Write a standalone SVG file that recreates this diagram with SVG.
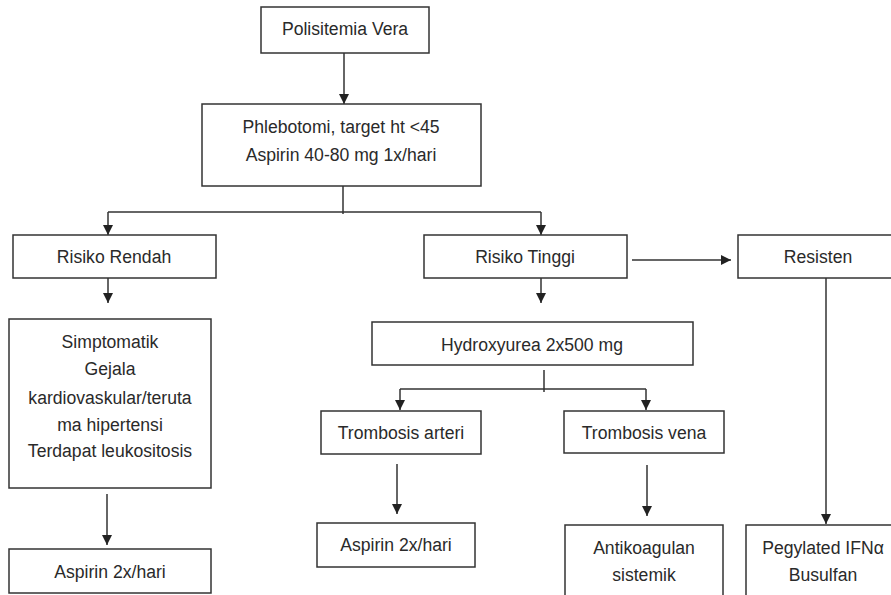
<svg xmlns="http://www.w3.org/2000/svg" width="891" height="595" viewBox="0 0 891 595">
<defs>
<marker id="ah" markerUnits="userSpaceOnUse" markerWidth="10" markerHeight="10" refX="10" refY="5" orient="auto">
<path d="M0,0 L10,5 L0,10 z" fill="#222"/>
</marker>
<style>
.box{fill:#fff;stroke:#333;stroke-width:1.5}
.t{font-family:"Liberation Sans",Arial,sans-serif;font-size:17.6px;fill:#2a2a2a;text-anchor:middle}
.c{fill:none;stroke:#333;stroke-width:1.5}
.a{fill:none;stroke:#333;stroke-width:1.5;marker-end:url(#ah)}
</style>
</defs>
<rect width="891" height="595" fill="#fff"/>
<g id="connectors">
<line class="a" x1="344" y1="53" x2="344" y2="104"/>
<line class="c" x1="343" y1="186" x2="343" y2="214"/>
<polyline class="c" points="108,212 541,212"/>
<line class="a" x1="108" y1="212" x2="108" y2="235"/>
<line class="a" x1="541" y1="212" x2="541" y2="235"/>
<line class="a" x1="108" y1="278" x2="108" y2="303"/>
<line class="a" x1="541" y1="278" x2="541" y2="303"/>
<line class="a" x1="632" y1="260" x2="731" y2="260"/>
<line class="a" x1="826" y1="278" x2="826" y2="524"/>
<line class="a" x1="107" y1="494" x2="107" y2="545"/>
<line class="c" x1="544" y1="370" x2="544" y2="392"/>
<polyline class="c" points="400,389 646,389"/>
<line class="a" x1="400" y1="389" x2="400" y2="410"/>
<line class="a" x1="646" y1="389" x2="646" y2="410"/>
<line class="a" x1="397" y1="464" x2="397" y2="514"/>
<line class="a" x1="647" y1="465" x2="647" y2="516"/>
</g>
<g id="polisitemia-vera">
<rect class="box" x="261" y="7" width="168" height="46"/>
<text class="t" x="345" y="35">Polisitemia Vera</text>
</g>
<g id="phlebotomi">
<rect class="box" x="202" y="104" width="279" height="82"/>
<text class="t" x="341" y="133">Phlebotomi, target ht &lt;45</text>
<text class="t" x="341" y="161">Aspirin 40-80 mg 1x/hari</text>
</g>
<g id="risiko-rendah">
<rect class="box" x="13" y="235" width="203" height="43"/>
<text class="t" x="114" y="263">Risiko Rendah</text>
</g>
<g id="risiko-tinggi">
<rect class="box" x="424" y="235" width="203" height="43"/>
<text class="t" x="525" y="263">Risiko Tinggi</text>
</g>
<g id="resisten">
<rect class="box" x="738" y="235" width="162" height="43"/>
<text class="t" x="818" y="263">Resisten</text>
</g>
<g id="simptomatik">
<rect class="box" x="9" y="319" width="202" height="169"/>
<text class="t" x="110" y="348">Simptomatik</text>
<text class="t" x="110" y="375">Gejala</text>
<text class="t" x="110" y="404">kardiovaskular/teruta</text>
<text class="t" x="110" y="431">ma hipertensi</text>
<text class="t" x="110" y="457">Terdapat leukositosis</text>
</g>
<g id="aspirin-1">
<rect class="box" x="9" y="549" width="202" height="44"/>
<text class="t" x="110" y="578">Aspirin 2x/hari</text>
</g>
<g id="hydroxyurea">
<rect class="box" x="372" y="322" width="321" height="43"/>
<text class="t" x="532" y="351">Hydroxyurea 2x500 mg</text>
</g>
<g id="trombosis-arteri">
<rect class="box" x="321" y="411" width="160" height="43"/>
<text class="t" x="401" y="439">Trombosis arteri</text>
</g>
<g id="trombosis-vena">
<rect class="box" x="564" y="411" width="160" height="42"/>
<text class="t" x="644" y="439">Trombosis vena</text>
</g>
<g id="aspirin-2">
<rect class="box" x="317" y="523" width="158" height="44"/>
<text class="t" x="396" y="551">Aspirin 2x/hari</text>
</g>
<g id="antikoagulan">
<rect class="box" x="565" y="525" width="158" height="80"/>
<text class="t" x="644" y="554">Antikoagulan</text>
<text class="t" x="644" y="581">sistemik</text>
</g>
<g id="pegylated">
<rect class="box" x="746" y="525" width="156" height="80"/>
<text class="t" x="823" y="554">Pegylated IFNα</text>
<text class="t" x="823" y="581">Busulfan</text>
</g>
</svg>
